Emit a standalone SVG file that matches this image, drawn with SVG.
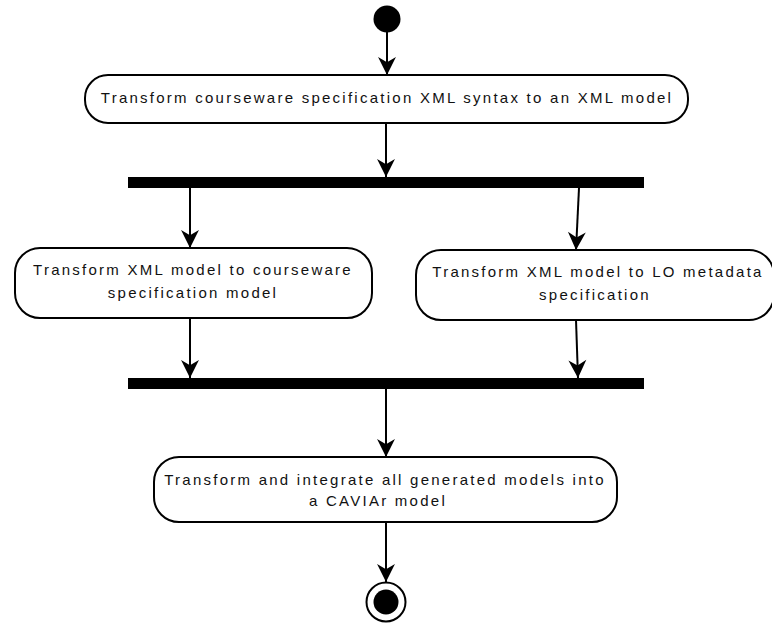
<svg xmlns="http://www.w3.org/2000/svg" width="772" height="624" viewBox="0 0 772 624">
  <style>
    .act { fill: #ffffff; stroke: #000000; stroke-width: 2; }
    .bar { fill: #000000; }
    .lbl { font-family: "Liberation Sans", Arial, Helvetica, sans-serif; font-size: 15px; fill: #111111; letter-spacing: 2.25px; text-anchor: middle; }
    .flow { stroke: #000000; stroke-width: 2; fill: none; marker-end: url(#head); }
  </style>
  <defs>
    <marker id="head" markerUnits="userSpaceOnUse" markerWidth="20" markerHeight="20" viewBox="-18 -9 19 18" refX="0" refY="0" orient="auto">
      <path d="M0,0 L-17,-8.5 L-12,0 L-17,8.5 Z" fill="#000000"/>
    </marker>
  </defs>

  <g id="start">
    <circle cx="387" cy="19" r="13.5" fill="#000000"/>
  </g>

  <g id="parse-syntax">
    <rect class="act" x="85" y="75" width="603" height="48" rx="23" ry="23"/>
    <text class="lbl" x="387" y="103">Transform courseware specification XML syntax to an XML model</text>
  </g>

  <g id="fork">
    <rect class="bar" x="128" y="177" width="516" height="11"/>
  </g>

  <g id="courseware-model">
    <rect class="act" x="15" y="248" width="357" height="70" rx="25" ry="25"/>
    <text class="lbl" x="193" y="275">Transform XML model to courseware</text>
    <text class="lbl" x="193" y="298">specification model</text>
  </g>

  <g id="lo-metadata">
    <rect class="act" x="416" y="250" width="358" height="70" rx="25" ry="25"/>
    <text class="lbl" x="598" y="277">Transform XML model to LO metadata</text>
    <text class="lbl" x="595" y="300">specification</text>
  </g>

  <g id="join">
    <rect class="bar" x="128" y="378" width="516" height="11"/>
  </g>

  <g id="integrate">
    <rect class="act" x="154" y="457" width="463" height="65" rx="25" ry="25"/>
    <text class="lbl" x="385" y="485">Transform and integrate all generated models into</text>
    <text class="lbl" x="378" y="506">a CAVIAr model</text>
  </g>

  <g id="end">
    <circle cx="386" cy="602" r="19.5" fill="#ffffff" stroke="#000000" stroke-width="2"/>
    <circle cx="386" cy="602" r="12.5" fill="#000000"/>
  </g>

  <g id="connectors">
    <line class="flow" x1="387" y1="32" x2="387" y2="75"/>
    <line class="flow" x1="386" y1="123" x2="386" y2="177"/>
    <line class="flow" x1="190" y1="188" x2="190" y2="248"/>
    <line class="flow" x1="579" y1="188" x2="576" y2="250"/>
    <line class="flow" x1="190" y1="318" x2="190" y2="378"/>
    <line class="flow" x1="576" y1="320" x2="578" y2="378"/>
    <line class="flow" x1="386" y1="389" x2="386" y2="457"/>
    <line class="flow" x1="386" y1="522" x2="386" y2="582"/>
  </g>
</svg>
